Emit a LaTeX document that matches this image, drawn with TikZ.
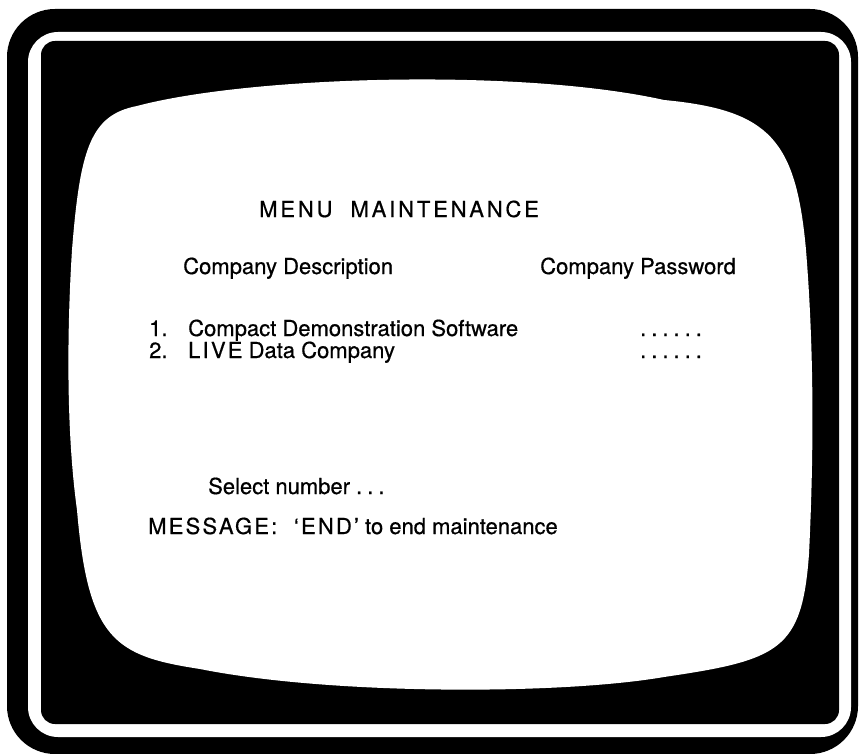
\documentclass[tikz,border=0pt]{standalone}
\usepackage{fontspec}
\setmainfont[FakeBold=0.6]{TeX Gyre Heros}
\newfontfamily\capsfont[LetterSpace=10,FakeBold=0.6]{TeX Gyre Heros}
\newfontfamily\titlefont[LetterSpace=13,FakeBold=0.6]{TeX Gyre Heros}
\newcommand{\pwdots}{.\hspace{5pt}.\hspace{5pt}.\hspace{5pt}.\hspace{5pt}.\hspace{5pt}.}
\begin{document}
\begin{tikzpicture}[x=1pt,y=-1pt,
  screentext/.style={anchor=base west,inner sep=0pt,font=\fontsize{22}{26}\selectfont}]
\useasboundingbox (0,0) rectangle (864,754);

% cabinet
\fill[rounded corners=48pt] (7,9) rectangle (858,754);
\fill[white,rounded corners=30pt] (28,32) rectangle (851,737);
\fill[rounded corners=14pt] (41,41) rectangle (839,724);

% screen
\fill[white] (72,250) .. controls (80,150) and (90,115) .. (137,106)
  .. controls (250,76) and (520,68) .. (664,100)
  .. controls (770,110) and (796,140) .. (806,250)
  .. controls (814,350) and (814,450) .. (809,554)
  .. controls (802,650) and (780,660) .. (664,677)
  .. controls (560,695) and (330,695) .. (200,669)
  .. controls (115,656) and (88,640) .. (77,510)
  .. controls (66,430) and (67,330) .. (72,250) -- cycle;

\node[screentext] (title) at (259,217) {\titlefont MENU\ \ MAINTENANCE};
\node[screentext] (coldesc) at (183,274) {Company Description};
\node[screentext] (colpass) at (540,274) {Company Password};
\node[screentext] (num1) at (149,336) {1.};
\node[screentext] (desc1) at (188,336) {Compact Demonstration Software};
\node[screentext] (pass1) at (640,336) {\pwdots};
\node[screentext] (num2) at (149,358) {2.};
\node[screentext] (desc2) at (188,358) {{\capsfont LIVE} Data Company};
\node[screentext] (pass2) at (640,358) {\pwdots};
\node[screentext] (prompt) at (208,494) {Select number\ .\hspace{5pt}.\hspace{5pt}.};
\node[screentext] (message) at (148,534) {{\capsfont MESSAGE:\ \ ‘END’} to end maintenance};

\end{tikzpicture}
\end{document}
